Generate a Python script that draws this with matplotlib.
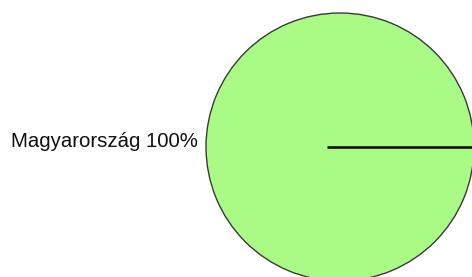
import matplotlib
matplotlib.use("Agg")
import matplotlib.pyplot as plt

categories = ["Magyarország"]
values = [100]
colors = ["#a9fb86"]

W, H, DPI = 472, 277, 100
fig = plt.figure(figsize=(W / DPI, H / DPI), dpi=DPI)
ax = fig.add_axes([0, 0, 1, 1])

cx, cy, r = 340, 147, 134
total = sum(values)
labels = [f"{c} {v / total * 100:.0f}%" for c, v in zip(categories, values)]

wedges, texts = ax.pie(values, labels=labels, colors=colors, center=(cx, cy), radius=r,
                       startangle=0, labeldistance=1.062, frame=True,
                       wedgeprops=dict(edgecolor="#3a3a3a", linewidth=1.0),
                       textprops=dict(family="Liberation Sans", fontsize=14.7, color="#111111"))
for t in texts:
    t.set_va("baseline")
    t.set_ha("right")

# slice boundary line at the start angle
ax.plot([cx - 0.1 * r, cx + r], [cy, cy], color="black", linewidth=1.8,
        solid_capstyle="butt", zorder=5)

ax.set_xlim(0, W)
ax.set_ylim(H, 0)
ax.set_aspect("auto")
ax.axis("off")
fig.savefig("out.png", dpi=DPI, facecolor="white")
